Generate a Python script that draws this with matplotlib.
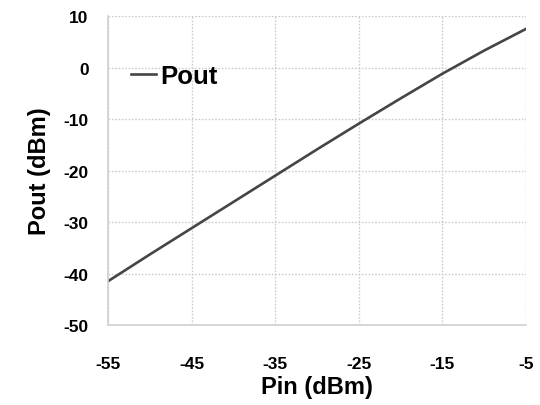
import numpy as np
import matplotlib.pyplot as plt

# data
pin_dbm = [-55, -50, -45, -40, -35, -30, -25, -20, -15, -10, -5]
pout_dbm = [-41.5, -36.3, -31.2, -26.1, -21.0, -15.9, -10.9, -6.0, -1.2, 3.3, 7.5]

x_ticks = [-55, -45, -35, -25, -15, -5]
y_ticks = [-50, -40, -30, -20, -10, 0, 10]

plt.rcParams['font.family'] = ['Liberation Sans', 'DejaVu Sans']
plt.rcParams['font.weight'] = 'bold'
plt.rcParams['axes.unicode_minus'] = False

fig = plt.figure(figsize=(5.4, 4.06), dpi=100)
ax = fig.add_axes([0.2, 0.197, 0.774, 0.761])

ax.plot(pin_dbm, pout_dbm, color='#454545', lw=1.9, label='Pout')

ax.set_xlim(-55, -5)
ax.set_ylim(-50, 10)
ax.set_xticks(x_ticks)
ax.set_yticks(y_ticks)
ax.tick_params(length=0, labelsize=12.5)
ax.tick_params(axis='y', pad=14)
ax.tick_params(axis='x', pad=22)
for lab in ax.get_xticklabels() + ax.get_yticklabels():
    lab.set_fontweight('bold')

ax.grid(True, color='#cccccc', ls=(0, (1.2, 1.2)), lw=1.0)
for side in ['top', 'right']:
    ax.spines[side].set_visible(False)
for side in ['left', 'bottom']:
    ax.spines[side].set_color('#d0d0d0')
    ax.spines[side].set_linewidth(1.2)

ax.set_xlabel('Pin (dBm)', fontsize=17, fontweight='bold', labelpad=3)
ax.set_ylabel('Pout (dBm)', fontsize=17, fontweight='bold', labelpad=9)

leg = ax.legend(loc='upper left', bbox_to_anchor=(0.0, 0.92), frameon=False,
                handlelength=0.95, handletextpad=0.2,
                prop={'size': 18.5, 'weight': 'bold'})

fig.savefig('out.png', dpi=100)
